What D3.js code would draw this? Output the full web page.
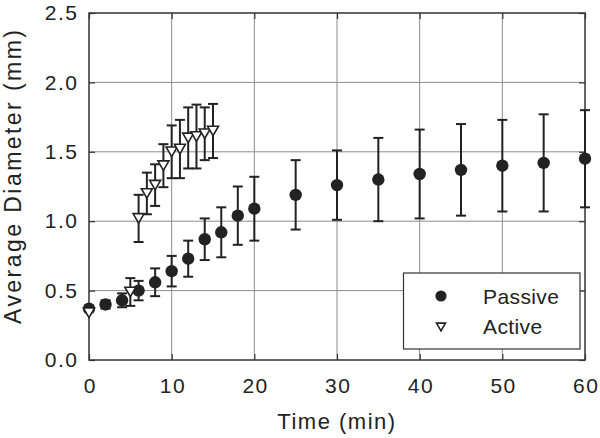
<!DOCTYPE html>
<html>
<head>
<meta charset="utf-8">
<script src="https://cdn.jsdelivr.net/npm/d3@7"></script>
<style>
  html, body { margin: 0; padding: 0; background: #fff; }
  svg { display: block; }
  text { font-family: "Liberation Sans", Arial, sans-serif; fill: #222; }
</style>
</head>
<body>
<svg id="chart" width="600" height="438"></svg>
<script>
// ---- data ----
const passiveTime = [0, 2, 4, 6, 8, 10, 12, 14, 16, 18, 20, 25, 30, 35, 40, 45, 50, 55, 60];
const passiveMean = [0.37, 0.40, 0.43, 0.50, 0.56, 0.64, 0.73, 0.87, 0.92, 1.04, 1.09, 1.19, 1.26, 1.30, 1.34, 1.37, 1.40, 1.42, 1.45];
const passiveErr  = [0.02, 0.03, 0.05, 0.07, 0.10, 0.11, 0.13, 0.15, 0.18, 0.21, 0.23, 0.25, 0.25, 0.30, 0.32, 0.33, 0.33, 0.35, 0.35];

const activeTime = [0, 5, 6, 7, 8, 9, 10, 11, 12, 13, 14, 15];
const activeMean = [0.34, 0.49, 1.02, 1.20, 1.26, 1.40, 1.50, 1.52, 1.60, 1.61, 1.63, 1.65];
const activeErr  = [0.00, 0.10, 0.17, 0.15, 0.15, 0.155, 0.19, 0.21, 0.22, 0.23, 0.19, 0.195];

const xTicks = [0, 10, 20, 30, 40, 50, 60];
const yTicks = [0.0, 0.5, 1.0, 1.5, 2.0, 2.5];
const xLabel = "Time (min)";
const yLabel = "Average Diameter (mm)";
const seriesNames = ["Passive", "Active"];

// ---- layout ----
const svg = d3.select("#chart");
const L = 89, R = 585, T = 13, B = 360;
const x = d3.scaleLinear().domain([0, 60]).range([L, R]);
const y = d3.scaleLinear().domain([0, 2.5]).range([B, T]);
const ink = "#222";

// grid
const grid = svg.append("g");
grid.selectAll("line.gx").data(xTicks.slice(1, -1)).enter().append("line")
  .attr("x1", d => x(d)).attr("x2", d => x(d)).attr("y1", T).attr("y2", B)
  .attr("stroke", "#8c8c8c").attr("stroke-width", 1);
grid.selectAll("line.gy").data(yTicks.slice(1, -1)).enter().append("line")
  .attr("y1", d => y(d)).attr("y2", d => y(d)).attr("x1", L).attr("x2", R)
  .attr("stroke", "#8c8c8c").attr("stroke-width", 1);

// axes (inside ticks)
const fmt = d3.format(".1f");
const axL = svg.append("g").attr("transform", `translate(${L},0)`)
  .call(d3.axisLeft(y).tickValues(yTicks).tickFormat(fmt).tickSize(-6).tickPadding(10.5));
const axB = svg.append("g").attr("transform", `translate(0,${B})`)
  .call(d3.axisBottom(x).tickValues(xTicks).tickFormat(d3.format("d")).tickSize(-6).tickPadding(18));
const axT = svg.append("g").attr("transform", `translate(0,${T})`)
  .call(d3.axisTop(x).tickValues(xTicks).tickFormat("").tickSize(-6));
const axR = svg.append("g").attr("transform", `translate(${R},0)`)
  .call(d3.axisRight(y).tickValues(yTicks).tickFormat("").tickSize(-6));
[axL, axB, axT, axR].forEach(g => {
  g.select(".domain").remove();
  g.selectAll(".tick line").attr("stroke", "#333").attr("stroke-width", 1.2);
  g.selectAll(".tick text").attr("font-size", 21).attr("letter-spacing", "1.5px")
    .attr("fill", ink).style("font-family", '"Liberation Sans", Arial, sans-serif');
});
axB.selectAll(".tick text").attr("dx", "0.75px");

// frame
svg.append("rect").attr("x", L).attr("y", T).attr("width", R - L).attr("height", B - T)
  .attr("fill", "none").attr("stroke", "#333").attr("stroke-width", 1.5);

// axis titles
svg.append("text").attr("x", (L + R) / 2).attr("y", 429).attr("text-anchor", "middle")
  .attr("font-size", 22).attr("letter-spacing", "1.5px").text(xLabel);
const yl = svg.append("text").attr("transform", "translate(21,177) rotate(-90)").attr("text-anchor", "middle")
  .attr("font-size", 23).text(yLabel);
// fit the title to the reference length (~294 px)
const natural = yl.node().getComputedTextLength();
if (natural > 0) {
  const extra = (294 - natural) / (yLabel.length - 1);
  if (extra >= 0) yl.attr("letter-spacing", extra + "px").attr("dx", extra / 2);
  else yl.attr("font-size", 23 * 294 / natural);
}

// error bars
function errorBars(times, means, errs) {
  const g = svg.append("g").attr("stroke", ink).attr("stroke-width", 2).attr("fill", "none");
  times.forEach((t, i) => {
    if (!errs[i]) return;
    const cx = x(t), y1 = y(means[i] + errs[i]), y2 = y(means[i] - errs[i]);
    g.append("line").attr("x1", cx).attr("x2", cx).attr("y1", y1).attr("y2", y2);
    g.append("line").attr("x1", cx - 5).attr("x2", cx + 5).attr("y1", y1).attr("y2", y1);
    g.append("line").attr("x1", cx - 5).attr("x2", cx + 5).attr("y1", y2).attr("y2", y2);
  });
}
errorBars(passiveTime, passiveMean, passiveErr);
errorBars(activeTime, activeMean, activeErr);

// markers
function triPath(w) {
  const h = w * 0.866;
  return `M${-w / 2},${-h / 2}L${w / 2},${-h / 2}L0,${h / 2}Z`;
}
svg.append("g").selectAll("circle").data(passiveTime).enter().append("circle")
  .attr("cx", d => x(d)).attr("cy", (d, i) => y(passiveMean[i])).attr("r", 6.2)
  .attr("fill", ink);
svg.append("g").selectAll("path").data(activeTime).enter().append("path")
  .attr("transform", (d, i) => `translate(${x(d)},${y(activeMean[i])})`)
  .attr("d", triPath(11)).attr("fill", "#fff").attr("stroke", ink).attr("stroke-width", 1.6);

// legend
const lg = svg.append("g");
lg.append("rect").attr("x", 403.5).attr("y", 273).attr("width", 176.5).attr("height", 76)
  .attr("fill", "#fff").attr("stroke", "#333").attr("stroke-width", 1.2);
lg.append("circle").attr("cx", 441).attr("cy", 296).attr("r", 5.6).attr("fill", ink);
lg.append("path").attr("transform", "translate(441,327)").attr("d", triPath(9))
  .attr("fill", "#fff").attr("stroke", ink).attr("stroke-width", 1.6);
lg.append("text").attr("x", 483).attr("y", 304).attr("font-size", 21).attr("letter-spacing", "0.4px").text(seriesNames[0]);
lg.append("text").attr("x", 483).attr("y", 334).attr("font-size", 21).attr("letter-spacing", "0.4px").text(seriesNames[1]);
</script>
</body>
</html>
